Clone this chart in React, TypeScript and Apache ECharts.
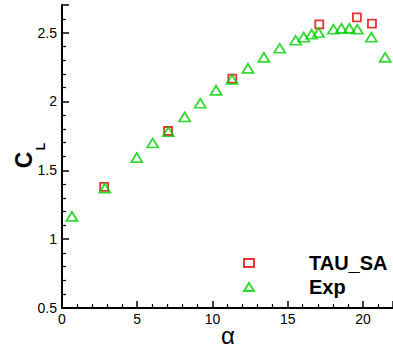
import React, { useEffect, useRef } from "react";
import * as echarts from "echarts";

const expAlpha = [0.66, 2.85, 4.97, 6.03, 7.07, 8.15, 9.19, 10.24, 11.3, 12.36, 13.42, 14.47, 15.53, 16.06, 16.59, 17.05, 18.04, 18.57, 19.1, 19.63, 20.56, 21.48];
const expCL = [1.165, 1.37, 1.592, 1.698, 1.78, 1.887, 1.987, 2.08, 2.16, 2.24, 2.32, 2.386, 2.444, 2.466, 2.488, 2.5, 2.524, 2.53, 2.53, 2.524, 2.466, 2.32];
const tauAlpha = [2.8, 7.05, 11.32, 17.1, 19.6, 20.6];
const tauCL = [1.38, 1.785, 2.165, 2.56, 2.61, 2.565];
const seriesNames = ["TAU_SA", "Exp"];

const FONT = "'Liberation Sans', Arial, sans-serif";

export default function App() {
  const ref = useRef<HTMLDivElement>(null);
  useEffect(() => {
    if (!ref.current) return;
    const chart = echarts.init(ref.current, undefined, { renderer: "svg" });
    const axisCommon = {
      axisLine: { show: true, onZero: false, lineStyle: { color: "#000", width: 2 } },
      axisTick: { show: true, inside: true, length: 7, lineStyle: { color: "#000", width: 1.5 } },
      minorTick: { show: true, splitNumber: 5, length: 4, lineStyle: { color: "#000", width: 1.2 } },
      splitLine: { show: false },
      minorSplitLine: { show: false },
    };
    chart.setOption({
      animation: false,
      backgroundColor: "#fff",
      grid: { left: 62, top: 5, width: 333, height: 303 },
      xAxis: {
        type: "value",
        min: 0,
        max: 22,
        interval: 5,
        ...axisCommon,
        axisLabel: { color: "#000", fontFamily: FONT, fontSize: 14, margin: 4, showMaxLabel: false },
      },
      yAxis: {
        type: "value",
        min: 0.5,
        max: 2.7,
        interval: 0.5,
        ...axisCommon,
        axisLabel: { color: "#000", fontFamily: FONT, fontSize: 14, margin: 5, showMaxLabel: false },
      },
      legend: {
        orient: "vertical",
        left: 243,
        top: 253,
        padding: 0,
        itemWidth: 10,
        itemHeight: 8,
        itemGap: 4,
        data: seriesNames,
        textStyle: {
          color: "#000",
          fontFamily: FONT,
          fontSize: 20,
          fontWeight: "bold",
          padding: [0, 0, 0, 50],
        },
      },
      graphic: [
        {
          type: "text",
          x: 24,
          y: 160,
          rotation: Math.PI / 2,
          style: { text: "C", font: `bold 23px ${FONT}`, fill: "#000", textAlign: "center", textVerticalAlign: "middle" },
        },
        {
          type: "text",
          x: 40.5,
          y: 146.5,
          rotation: Math.PI / 2,
          style: { text: "L", font: `bold 12px ${FONT}`, fill: "#000", textAlign: "center", textVerticalAlign: "middle" },
        },
        {
          type: "text",
          x: 228,
          y: 335,
          style: { text: "α", font: `24px ${FONT}`, fill: "#000", textAlign: "center", textVerticalAlign: "middle" },
        },
      ],
      series: [
        {
          name: seriesNames[0],
          type: "scatter",
          symbol: "rect",
          symbolSize: 8,
          itemStyle: { color: "rgba(0,0,0,0)", borderColor: "#e00000", borderWidth: 1.8 },
          data: tauAlpha.map((a, i) => [a, tauCL[i]]),
          z: 2,
        },
        {
          name: seriesNames[1],
          type: "scatter",
          symbol: "triangle",
          symbolSize: [11, 9],
          itemStyle: { color: "rgba(0,0,0,0)", borderColor: "#00d000", borderWidth: 1.8 },
          data: expAlpha.map((a, i) => [a, expCL[i]]),
          z: 3,
        },
      ],
    });
    return () => chart.dispose();
  }, []);
  return (
    <div
      ref={ref}
      style={{ position: "fixed", left: 0, top: 0, width: 393, height: 348, background: "#fff" }}
    />
  );
}
